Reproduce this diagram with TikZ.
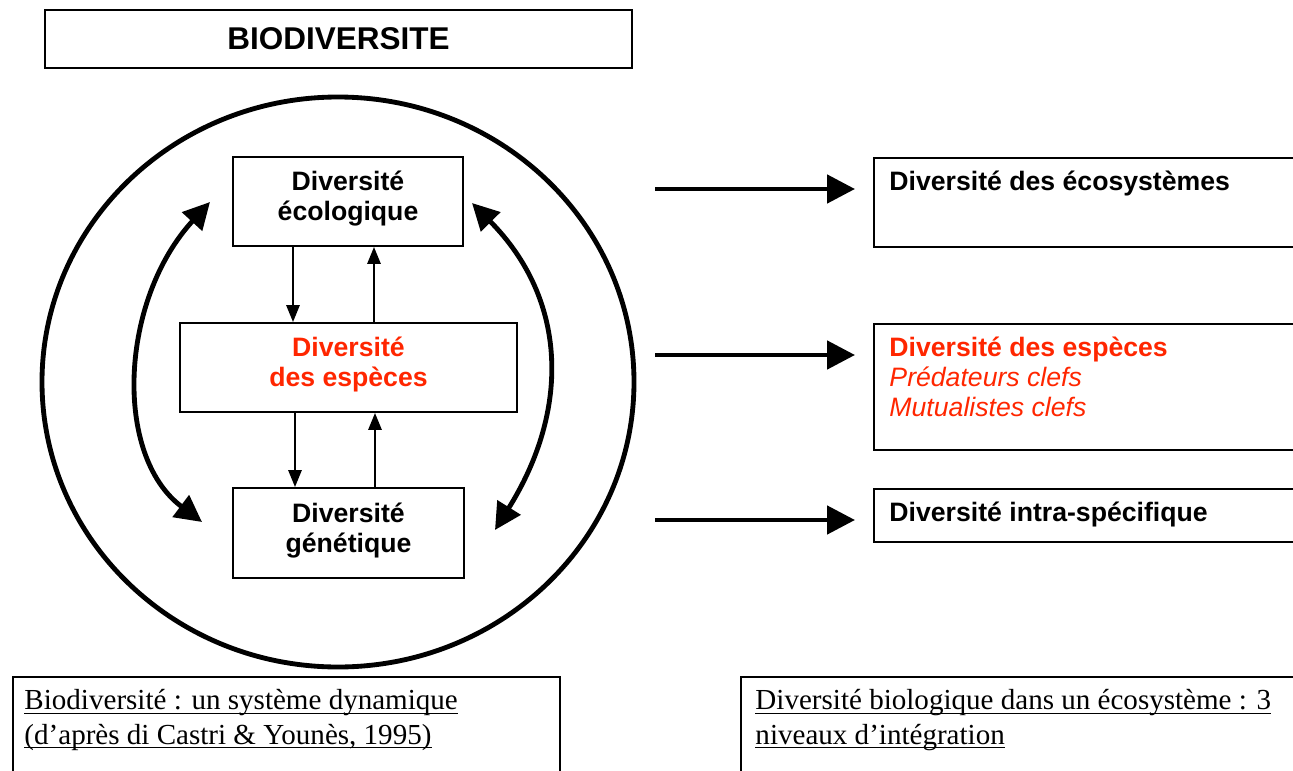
\documentclass[tikz,border=0pt]{standalone}
\usepackage{fontspec}
\setmainfont{Liberation Serif}
\setsansfont{Liberation Sans}
\usetikzlibrary{arrows.meta,positioning,calc}
\definecolor{especered}{RGB}{255,38,0}
\newcommand\pu{0.413pt}
\newcommand\souligne[1]{\underline{\raisebox{0pt}[\height][0pt]{#1}}}
\tikzset{
  box/.style={draw,line width=0.8pt,inner sep=0pt},
  boxtext/.style={font=\sffamily\bfseries\fontsize{11}{12.4}\selectfont,align=center,
    text depth=4.6pt},
  sidetext/.style={font=\sffamily\fontsize{11}{12.4}\selectfont,align=left,
    anchor=north west,inner sep=0pt},
  legtext/.style={font=\rmfamily\fontsize{12}{14.4}\selectfont,align=left,
    anchor=north west,inner sep=0pt},
  smallarrow/.style={line width=0.8pt,-{Triangle[length=7pt,width=5.5pt]}},
  bigarrow/.style={line width=2pt,-{Triangle[length=11.5pt,width=11.5pt]}},
  curvearrow/.style={line width=2pt,
    {Triangle[length=11pt,width=11pt]}-{Triangle[length=11pt,width=11pt]}},
}
\begin{document}
\begin{tikzpicture}[x=\pu,y=-\pu]
\useasboundingbox (0,0) rectangle (1293,771);
\clip (0,0) rectangle (1293,771);
\node[box,minimum width=587*\pu,minimum height=58*\pu] (titre) at (338.5,39)
  {\sffamily\bfseries\fontsize{13}{15}\selectfont BIODIVERSITE};
\draw[line width=2pt] (338,382) ellipse [x radius=296,y radius=285];
\node[box,boxtext,minimum width=230*\pu,minimum height=89*\pu] (eco) at (348,201.5)
  {Diversité\\écologique};
\node[box,boxtext,text=especered,minimum width=337*\pu,minimum height=89*\pu] (esp)
  at (348.5,367.5) {Diversité\\des espèces};
\node[box,boxtext,minimum width=231*\pu,minimum height=90*\pu] (gen) at (348.5,533)
  {Diversité\\génétique};
\draw[smallarrow] ([xshift=-55*\pu]eco.south) -- ([xshift=-55.5*\pu]esp.north);
\draw[smallarrow] ([xshift=25.5*\pu]esp.north) -- ([xshift=26*\pu]eco.south);
\draw[smallarrow] ([xshift=-53.5*\pu]esp.south) -- ([xshift=-53.5*\pu]gen.north);
\draw[smallarrow] ([xshift=26.5*\pu]gen.north) -- ([xshift=26.5*\pu]esp.south);
\coordinate (gh) at (210,202);
\coordinate (gb) at (202,522);
\coordinate (dh) at (472,203);
\coordinate (db) at (495,530);
\draw[curvearrow] (gh) .. controls (120,300) and (113,455) .. (gb);
\draw[curvearrow] (dh) .. controls (568,300) and (570,410) .. (db);
\node[box,anchor=north west,minimum width=427*\pu,minimum height=89*\pu] (niv1)
  at (873,157) {};
\node[box,anchor=north west,minimum width=427*\pu,minimum height=126*\pu] (niv2)
  at (873,323) {};
\node[box,anchor=north west,minimum width=427*\pu,minimum height=53*\pu] (niv3)
  at (873,488) {};
\foreach \y [count=\i] in {189,355,520}{
  \coordinate (s\i) at (655,\y);
  \coordinate (f\i) at (855,\y);
  \draw[bigarrow] (s\i) -- (f\i);}
\node[sidetext] (tniv1) at ([shift={(16,13)}]niv1.north west)
  {\bfseries Diversité des écosystèmes};
\node[sidetext,text=especered] (tniv2) at ([shift={(16,13)}]niv2.north west)
  {\bfseries Diversité des espèces\\\itshape Prédateurs clefs\\\itshape Mutualistes clefs};
\node[sidetext] (tniv3) at ([shift={(16,13)}]niv3.north west)
  {\bfseries Diversité intra-spécifique};
\node[box,anchor=north west,minimum width=547*\pu,minimum height=104*\pu] (leg1)
  at (12,676) {};
\node[box,anchor=north west,minimum width=560*\pu,minimum height=104*\pu] (leg2)
  at (740,676) {};
\node[legtext] (tleg1) at ([shift={(12,13)}]leg1.north west)
  {\souligne{Biodiversité : un système dynamique}\\
   \souligne{(d’après di Castri \& Younès, 1995)}};
\node[legtext] (tleg2) at ([shift={(15,13)}]leg2.north west)
  {\souligne{Diversité biologique dans un écosystème : 3}\\
   \souligne{niveaux d’intégration}};
\end{tikzpicture}
\end{document}
